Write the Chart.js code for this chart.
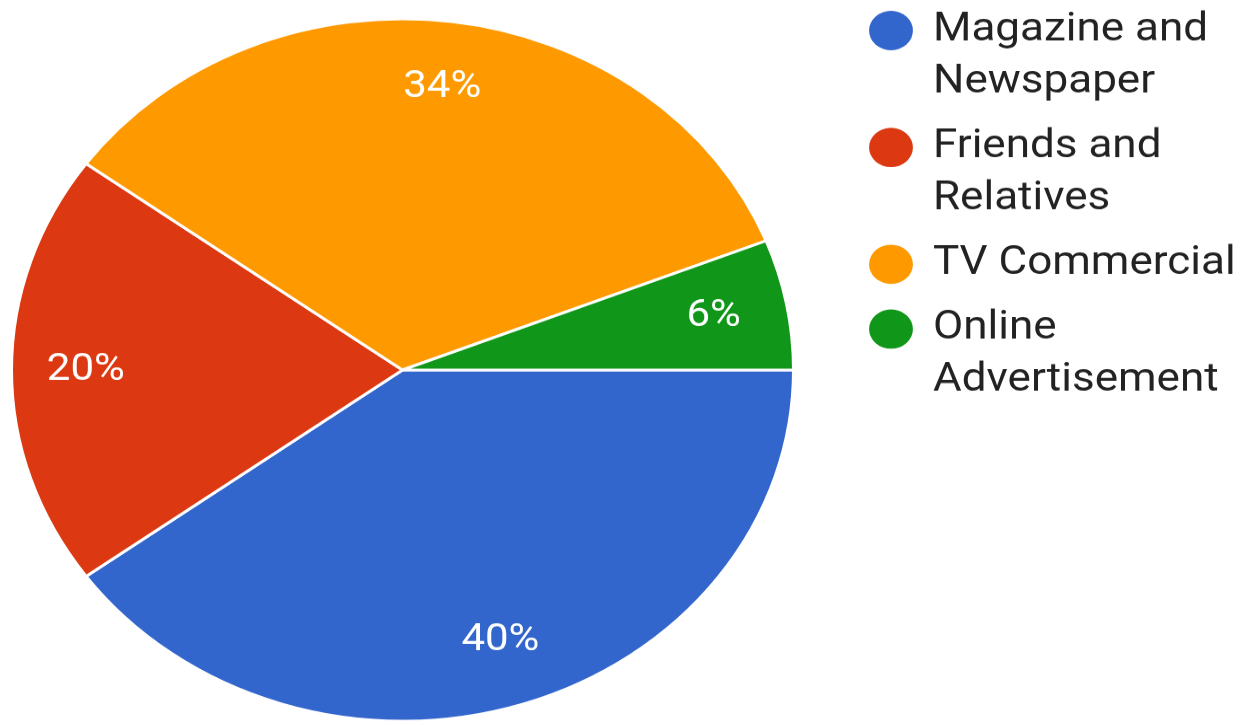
<!DOCTYPE html>
<html>
<head>
<meta charset="utf-8">
<title>Where did you hear about us?</title>
<script src="https://cdn.jsdelivr.net/npm/chart.js@4.4.1/dist/chart.umd.min.js"></script>
<style>
  html, body { margin: 0; padding: 0; background: #fff; overflow: hidden; }
  #wrap { width: 1246px; height: 725px; overflow: hidden; }
  /* the survey export is a little flattened vertically */
  #pieChart { transform: scaleY(0.898); transform-origin: 0 0; }
</style>
</head>
<body>
<div id="wrap"><canvas id="pieChart" width="1246" height="807"></canvas></div>
<script>
// legend lines per category
let categories = [['Magazine and', 'Newspaper'], ['Friends and', 'Relatives'], ['TV Commercial'], ['Online', 'Advertisement']];
let shares = [40, 20, 34, 6];
let sliceColors = ['#3366cc', '#dc3912', '#ff9900', '#109618'];

// percent text inside each slice
const percentLabels = {
    id: 'percentLabels',
    afterDatasetsDraw: (chart) => {
        const ctx = chart.ctx;
        const total = shares.reduce((a, b) => a + b, 0);
        ctx.save();
        ctx.fillStyle = '#fff';
        ctx.font = '42px Roboto';
        ctx.textAlign = 'center';
        ctx.textBaseline = 'middle';
        chart.getDatasetMeta(0).data.forEach((arc, i) => {
            const p = arc.getProps(['x', 'y', 'startAngle', 'endAngle', 'outerRadius'], true);
            const mid = (p.startAngle + p.endAngle) / 2;
            const r = p.outerRadius * 0.81;
            ctx.fillText(Math.round(shares[i] / total * 100) + '%', p.x + Math.cos(mid) * r, p.y + Math.sin(mid) * r);
        });
        ctx.restore();
    }
};

// push the legend to the right edge, away from the pie
const legendSpot = {
    id: 'legendSpot',
    afterLayout: (chart) => {
        const lg = chart.legend;
        lg.left = 857;
        lg.right = chart.width;
        lg.width = lg.right - lg.left;
        lg.top = -2;
    }
};

const ctx = document.getElementById('pieChart').getContext('2d');

const myChart = new Chart(ctx, {
    type: 'pie',
    plugins: [percentLabels, legendSpot],
    data: {
        labels: categories,
        datasets: [{
            data: shares,
            backgroundColor: sliceColors,
            borderColor: '#fff',
            borderWidth: 3
        }]
    },
    options: {
        responsive: false,
        animation: false,
        rotation: 90,
        layout: {
            padding: { left: 10, top: 19, right: 151, bottom: 2 }
        },
        plugins: {
            tooltip: { enabled: false },
            legend: {
                position: 'right',
                align: 'start',
                maxWidth: 300,
                labels: {
                    usePointStyle: true,
                    pointStyle: 'circle',
                    boxWidth: 40,
                    boxHeight: 31,
                    padding: 14,
                    color: '#222',
                    font: { family: 'Roboto', size: 44, lineHeight: 1.32 },
                    generateLabels: (chart) => Chart.overrides.pie.plugins.legend.labels
                        .generateLabels(chart)
                        .map(item => ({ ...item, lineWidth: 0 }))
                }
            }
        }
    }
});
</script>
</body>
</html>
